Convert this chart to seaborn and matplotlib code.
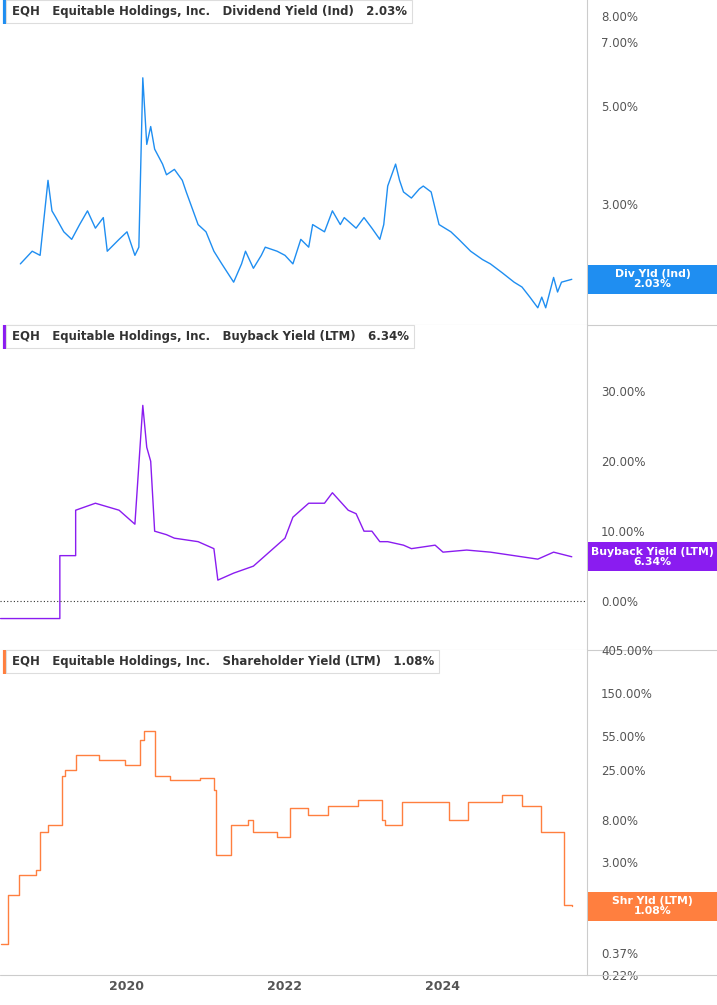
import matplotlib
matplotlib.use("Agg")
import matplotlib.pyplot as plt
import matplotlib.ticker as mt
from matplotlib.patches import Rectangle
import seaborn as sns
import pandas as pd

div_years = [2018.65,2018.8,2018.9,2019.0,2019.05,2019.1,2019.2,2019.3,2019.4,2019.5,2019.6,2019.7,2019.75,2019.9,2020.0,2020.1,2020.15,2020.2,2020.25,2020.3,2020.35,2020.45,2020.5,2020.6,2020.7,2020.75,2020.9,2021.0,2021.1,2021.2,2021.35,2021.45,2021.5,2021.6,2021.7,2021.75,2021.9,2022.0,2022.1,2022.2,2022.3,2022.35,2022.5,2022.6,2022.7,2022.75,2022.9,2023.0,2023.1,2023.2,2023.25,2023.3,2023.4,2023.45,2023.5,2023.6,2023.7,2023.75,2023.85,2023.95,2024.1,2024.2,2024.35,2024.5,2024.6,2024.75,2024.9,2025.0,2025.1,2025.2,2025.25,2025.3,2025.4,2025.45,2025.5,2025.63]
div_vals = [2.2,2.35,2.3,3.4,2.9,2.8,2.6,2.5,2.7,2.9,2.65,2.8,2.35,2.5,2.6,2.3,2.4,5.8,4.1,4.5,4.0,3.7,3.5,3.6,3.4,3.2,2.7,2.6,2.35,2.2,2.0,2.2,2.35,2.15,2.3,2.4,2.35,2.3,2.2,2.5,2.4,2.7,2.6,2.9,2.7,2.8,2.65,2.8,2.65,2.5,2.7,3.3,3.7,3.4,3.2,3.1,3.25,3.3,3.2,2.7,2.6,2.5,2.35,2.25,2.2,2.1,2.0,1.95,1.85,1.75,1.85,1.75,2.05,1.9,2.0,2.03]

bb_years = [2018.4,2019.15,2019.15,2019.35,2019.35,2019.6,2019.9,2020.1,2020.2,2020.25,2020.3,2020.35,2020.5,2020.6,2020.9,2021.1,2021.15,2021.35,2021.6,2021.8,2022.0,2022.1,2022.3,2022.5,2022.6,2022.8,2022.9,2023.0,2023.1,2023.2,2023.3,2023.5,2023.6,2023.9,2024.0,2024.3,2024.6,2024.9,2025.2,2025.4,2025.63]
bb_vals = [-2.5,-2.5,6.5,6.5,13.0,14.0,13.0,11.0,28.0,22.0,20.0,10.0,9.5,9.0,8.5,7.5,3.0,4.0,5.0,7.0,9.0,12.0,14.0,14.0,15.5,13.0,12.5,10.0,10.0,8.5,8.5,8.0,7.5,8.0,7.0,7.3,7.0,6.5,6.0,7.0,6.34]

sh_years = [2018.4,2018.5,2018.5,2018.63,2018.85,2018.9,2019.0,2019.18,2019.22,2019.35,2019.65,2019.97,2020.16,2020.22,2020.35,2020.54,2020.92,2021.1,2021.13,2021.28,2021.32,2021.53,2021.59,2021.9,2022.06,2022.29,2022.54,2022.92,2023.02,2023.23,2023.27,2023.48,2023.88,2024.07,2024.32,2024.75,2025.0,2025.24,2025.5,2025.53,2025.63]
sh_vals = [0.45,0.45,1.4,2.2,2.5,6.0,7.0,22.0,25.0,36.0,32.0,28.0,51.0,62.0,22.0,20.0,21.0,16.0,3.5,3.5,7.0,8.0,6.0,5.3,10.5,9.0,11.0,12.5,12.5,8.0,7.0,12.0,12.0,8.0,12.0,14.0,11.0,6.0,6.0,1.1,1.08]

blue, purple, orange = "#1f8ef1", "#8a1cf0", "#ff7f3f"
sns.set_style("white")
fig = plt.figure(figsize=(7.17, 10.05), dpi=100)
W = 587/717
axs = [fig.add_axes([0, 1-325/1005, W, 325/1005]),
       fig.add_axes([0, 1-650/1005, W, 325/1005]),
       fig.add_axes([0, 1-975/1005, W, 325/1005])]
data = [(div_years, div_vals, blue, "Dividend Yield (Ind)", "2.03%", "Div Yld (Ind)"),
        (bb_years, bb_vals, purple, "Buyback Yield (LTM)", "6.34%", "Buyback Yield (LTM)"),
        (sh_years, sh_vals, orange, "Shareholder Yield (LTM)", "1.08%", "Shr Yld (LTM)")]
x0 = 2020 - 127/79
x1 = x0 + 587/79
for i, (ax, (xs, ys, c, name, last, short)) in enumerate(zip(axs, data)):
    df = pd.DataFrame({"x": xs, "y": ys})
    sns.lineplot(data=df, x="x", y="y", ax=ax, color=c, lw=1.0,
                 drawstyle="steps-post" if i == 2 else "default", estimator=None)
    ax.set_xlim(x0, x1)
    ax.set_xlabel(""); ax.set_ylabel("")
    ax.yaxis.tick_right()
    for s in ["top", "left", "bottom"]:
        ax.spines[s].set_visible(False)
    ax.spines["right"].set_color("#cccccc")
    ax.tick_params(axis="y", length=0, labelsize=8.5, labelcolor="#555555", pad=10)
    ax.tick_params(axis="x", length=0)
    ax.plot([0, 1.25], [0, 0], transform=ax.transAxes, color="#cccccc", lw=0.8, clip_on=False)
    ax.text(0.02, 0.965, f"EQH   Equitable Holdings, Inc.   {name}   {last}", transform=ax.transAxes,
            fontsize=8.5, fontweight="bold", color="#333333", va="center",
            bbox=dict(boxstyle="square,pad=0.45", fc="white", ec="#dddddd", lw=0.8))
    ax.plot([0.008, 0.008], [0.925, 1.0], transform=ax.transAxes, color=c, lw=3, clip_on=False, solid_capstyle="butt")

ax = axs[0]
ax.set_yscale("log"); ax.set_ylim(1.6, 8.7)
tk = [2, 3, 5, 7, 8]
ax.yaxis.set_major_locator(mt.FixedLocator(tk)); ax.yaxis.set_minor_locator(mt.NullLocator())
ax.set_yticklabels([f"{v:.2f}%" for v in tk]); ax.set_xticklabels([])
ax = axs[1]
ax.set_ylim(-7, 39.5)
ax.set_yticks([0, 10, 20, 30]); ax.set_yticklabels([f"{v:.2f}%" for v in [0, 10, 20, 30]])
ax.axhline(0, color="#333333", lw=0.8, ls=(0, (1, 2)))
ax.set_xticklabels([])
ax = axs[2]
ax.set_yscale("log"); ax.set_ylim(0.22, 405)
tk = [0.22, 0.37, 1.0, 3, 8, 25, 55, 150, 405]
ax.yaxis.set_major_locator(mt.FixedLocator(tk)); ax.yaxis.set_minor_locator(mt.NullLocator())
ax.set_yticklabels([f"{v:.2f}%" for v in tk])
ax.set_xticks([2020, 2022, 2024]); ax.set_xticklabels(["2020", "2022", "2024"], fontsize=9, fontweight="bold", color="#555555")

# value boxes on right (figure-level)
H = 1005
for ax, (xs, ys, c, name, last, short) in zip(axs, data):
    ypix = ax.transData.transform((xs[-1], ys[-1]))[1]
    bh = 29
    fig.patches.append(Rectangle((588/717, (ypix - bh/2)/H), 129/717, bh/H, transform=fig.transFigure,
                                 fc=c, ec="none", zorder=5))
    fig.text((588 + 64.5)/717, ypix/H, f"{short}\n{last}", ha="center", va="center", fontsize=7.8,
             fontweight="bold", color="white", zorder=6, linespacing=1.0)
fig.savefig("out.png", dpi=100)
